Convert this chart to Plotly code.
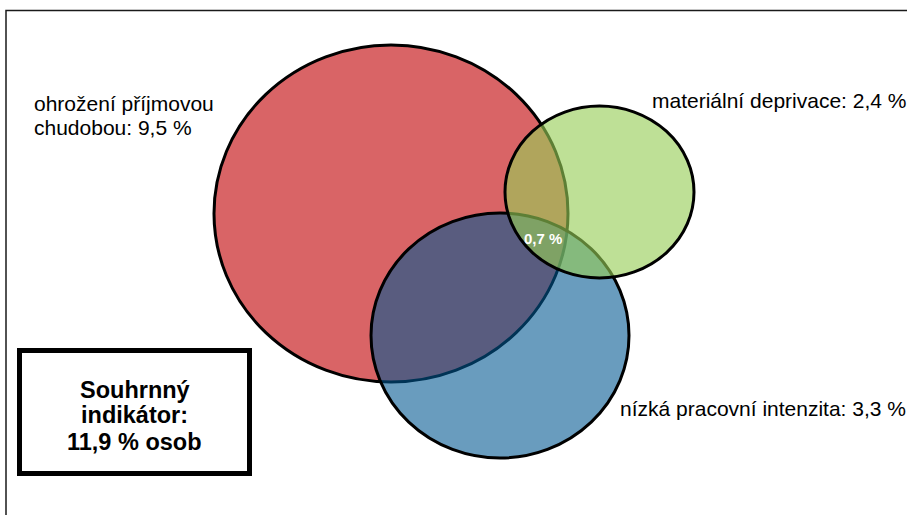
import plotly.graph_objects as go

# ---- data ----
categories = ["ohrožení příjmovou chudobou", "materiální deprivace", "nízká pracovní intenzita"]
shares = [9.5, 2.4, 3.3]          # % of persons
overlap_all = 0.7                  # % in all three
summary_total = 11.9               # summary indicator, % of persons
summary_title = ["Souhrnný", "indikátor:"]

# ---- layout / style (pixel-like coordinates) ----
W, H = 907, 515
circle_boxes = [(214, 45, 568, 382), (505, 106, 694, 278), (371, 213, 629, 458)]
circle_fills = ["rgb(217,100,102)", "rgba(150,205,85,0.62)", "rgba(0,86,145,0.59)"]
draw_order = [0, 2, 1]
FONT = "Arial, Liberation Sans, sans-serif"


def fmt(v):
    return f"{v:.1f}".replace(".", ",") + " %"


fig = go.Figure()

shapes = []
# outer frame
shapes.append(dict(type="rect", xref="x", yref="y", x0=6, y0=10.5, x1=915, y1=525,
                   line=dict(color="#1a1a1a", width=1.5), fillcolor="rgba(0,0,0,0)", layer="below"))
for i in draw_order:
    x0, y0, x1, y1 = circle_boxes[i]
    shapes.append(dict(type="circle", xref="x", yref="y", x0=x0, y0=y0, x1=x1, y1=y1,
                       fillcolor=circle_fills[i], line=dict(color="black", width=3)))
# summary box
shapes.append(dict(type="rect", xref="x", yref="y", x0=19.5, y0=350.5, x1=249.5, y1=473.5,
                   fillcolor="white", line=dict(color="black", width=5)))

ann = []
base = dict(xref="x", yref="y", showarrow=False, borderpad=0)
# label of first set on two lines
w = categories[0].split(" ")
lines0 = [" ".join(w[:2]), " ".join(w[2:]) + ": " + fmt(shares[0])]
for txt, yy in zip(lines0, [103.6, 127.6]):
    ann.append(dict(base, x=33, y=yy, text=txt, xanchor="left", yanchor="middle",
                    font=dict(family=FONT, size=21, color="black")))
ann.append(dict(base, x=651, y=100.6, text=categories[1] + ": " + fmt(shares[1]),
                xanchor="left", yanchor="middle", font=dict(family=FONT, size=21, color="black")))
ann.append(dict(base, x=619, y=408.6, text=categories[2] + ": " + fmt(shares[2]),
                xanchor="left", yanchor="middle", font=dict(family=FONT, size=21, color="black")))
ann.append(dict(base, x=543, y=238.7, text="<b>" + fmt(overlap_all) + "</b>",
                xanchor="center", yanchor="middle", font=dict(family=FONT, size=15, color="white")))
box_lines = summary_title + [fmt(summary_total) + " osob"]
for txt, yy in zip(box_lines, [390, 415, 442]):
    ann.append(dict(base, x=134.5, y=yy, text="<b>" + txt + "</b>", xanchor="center", yanchor="middle",
                    font=dict(family=FONT, size=23.5, color="black")))

fig.update_layout(
    width=W, height=H, margin=dict(l=0, r=0, t=0, b=0),
    paper_bgcolor="white", plot_bgcolor="white",
    xaxis=dict(range=[0, W], visible=False, fixedrange=True),
    yaxis=dict(range=[H, 0], visible=False, fixedrange=True),
    shapes=shapes, annotations=ann, showlegend=False,
)

fig.write_html("out.html", config={"displayModeBar": False},
               post_script="document.body.style.margin='0px';document.body.style.overflow='hidden';")
